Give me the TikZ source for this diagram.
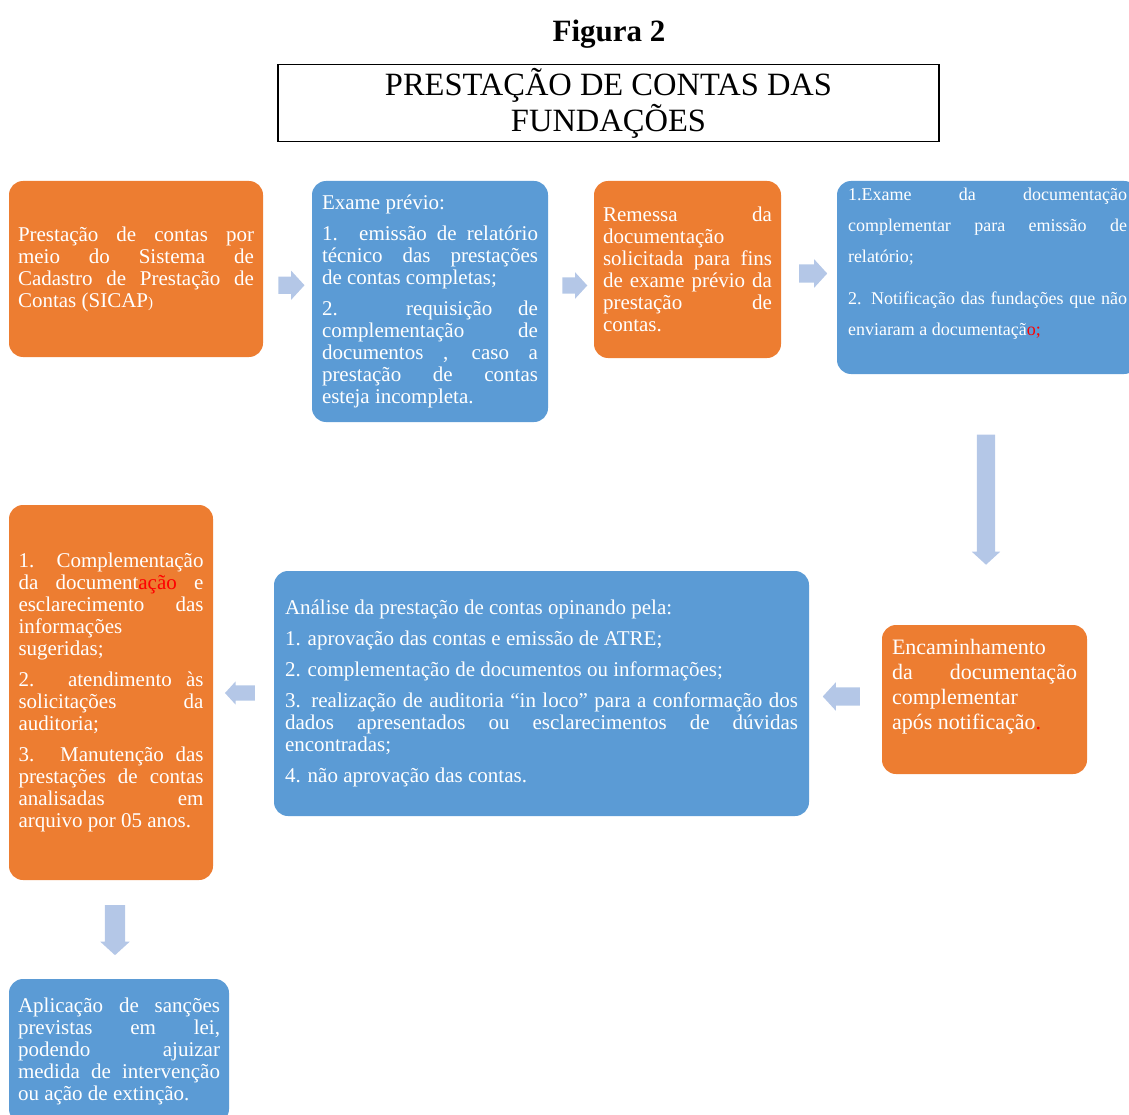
\documentclass[tikz,border=0pt]{standalone}
\usepackage{fontspec}
\setmainfont{Liberation Serif}
\usetikzlibrary{shapes.arrows,calc}
\definecolor{boxorange}{HTML}{ED7D31}
\definecolor{boxblue}{HTML}{5B9BD5}
\definecolor{arrowblue}{HTML}{B4C7E7}
\tolerance=10000
\hbadness=10000
\hyphenpenalty=10000
\exhyphenpenalty=10000

\begin{document}
\begin{tikzpicture}[x=1pt, y=-1pt,
    box/.style={rectangle, rounded corners=14pt, draw=none, text=white,
        align=justify, inner xsep=0pt, inner ysep=0pt,
        font=\fontsize{21}{22}\selectfont,
        execute at begin node={\setlength{\parskip}{9pt}}},
    orangebox/.style={box, fill=boxorange},
    bluebox/.style={box, fill=boxblue},
    blockarrow/.style={single arrow, fill=arrowblue, draw=none,
        inner xsep=0pt, single arrow tip angle=95},
    downarrow/.style={blockarrow, shape border rotate=270, inner ysep=0pt}]

    % Page
    \useasboundingbox (0,0) rectangle (1129,1115);
    \clip (0,0) rectangle (1129,1115);

    % Title
    \node[font=\bfseries\fontsize{31}{36}\selectfont] (figura) at (609,34) {Figura 2};
    \node[draw=black, line width=1.5pt, minimum width=661pt, minimum height=74pt,
          align=center, font=\fontsize{32.5}{36}\selectfont] (titulo) at (608.5,103)
          {PRESTAÇÃO DE CONTAS DAS\\FUNDAÇÕES};

    % Top row
    \node[orangebox, text width=236pt, minimum width=254pt, minimum height=176pt] (prest) at (136,269)
        {Prestação de contas por\linebreak meio do Sistema de\linebreak Cadastro de Prestação de\linebreak Contas (SICAP{\fontsize{15}{22}\selectfont)}};

    \node[bluebox, text width=216pt, minimum width=236pt, minimum height=241pt] (exame) at (430,301.5)
        {Exame prévio:\par
         1. emissão de relatório\linebreak técnico das prestações\linebreak de contas completas;\par
         2. requisição de\linebreak complementação de\linebreak documentos , caso a\linebreak prestação de contas\linebreak esteja incompleta.};

    \node[orangebox, text width=169pt, minimum width=187pt, minimum height=177pt] (remessa) at (687.5,269.5)
        {Remessa da\linebreak documentação\linebreak solicitada para fins\linebreak de exame prévio da\linebreak prestação de\linebreak contas.};

    \node[bluebox, text width=279pt, minimum width=301pt, minimum height=193pt,
          font=\fontsize{18}{31}\selectfont,
          execute at begin node={\setlength{\parskip}{11pt}}] (examedoc) at (987.5,277.5)
        {1.Exame da documentação\linebreak complementar para emissão de\linebreak relatório;\par
         2. Notificação das fundações que não\linebreak enviaram a documentaçã\textcolor{red}{o;}\par\kern28pt};

    % Middle row
    \node[orangebox, text width=185pt, minimum width=205pt, minimum height=149pt,
          font=\fontsize{22}{25}\selectfont] (encam) at (984.5,699.5)
        {Encaminhamento\linebreak da documentação\linebreak complementar\linebreak após notificação\textcolor{red}{.}\par\kern25pt};

    \node[bluebox, text width=513pt, minimum width=535pt, minimum height=245pt] (analise) at (541.5,693.5)
        {Análise da prestação de contas opinando pela:\par
         1. aprovação das contas e emissão de ATRE;\par
         2. complementação de documentos ou informações;\par
         3. realização de auditoria “in loco” para a conformação dos\linebreak dados apresentados ou esclarecimentos de dúvidas\linebreak encontradas;\par
         4. não aprovação das contas.};

    \node[orangebox, text width=185pt, minimum width=204pt, minimum height=375pt] (complem) at (111,692.5)
        {1. Complementação\linebreak da document\textcolor{red}{ação} e\linebreak esclarecimento das\linebreak informações\linebreak sugeridas;\par
         2. atendimento às\linebreak solicitações da\linebreak auditoria;\par
         3. Manutenção das\linebreak prestações de contas\linebreak analisadas em\linebreak arquivo por 05 anos.};

    % Bottom
    \node[bluebox, text width=202pt, minimum width=220pt, minimum height=144pt] (sancoes) at (119,1051)
        {Aplicação de sanções\linebreak previstas em lei,\linebreak podendo ajuizar\linebreak medida de intervenção\linebreak ou ação de extinção.};

    % Arrows
    \node[blockarrow, minimum height=26pt, inner ysep=8.5pt, single arrow head extend=6pt]
        (arr1) at ($(prest.east)!.5!(exame.west)$) {};
    \node[blockarrow, minimum height=25pt, inner ysep=8pt, single arrow head extend=5pt]
        (arr2) at ($(exame.east)!.5!(remessa.west)$) {};
    \node[blockarrow, minimum height=28pt, inner ysep=9pt, single arrow head extend=5pt]
        (arr3) at ($(remessa.east)!.5!(examedoc.west)$) {};
    \node[downarrow, minimum height=130pt, inner xsep=9pt, single arrow head extend=5pt,
          yshift=4pt] (arr4) at ($(examedoc.south)!.5!(encam.north)$) {};
    \node[blockarrow, minimum height=37pt, inner ysep=9pt, single arrow head extend=5pt,
          shape border rotate=180] (arr5) at ($(encam.west)!.5!(analise.east)$) {};
    \node[blockarrow, minimum height=30pt, inner ysep=7.5pt, single arrow head extend=4pt,
          shape border rotate=180] (arr6) at ($(analise.west)!.5!(complem.east)$) {};
    \node[downarrow, minimum height=50pt, inner xsep=10pt, single arrow head extend=4.5pt,
          yshift=4pt] (arr7) at ($(complem.south)!.5!(sancoes.north)$) {};

\end{tikzpicture}
\end{document}
